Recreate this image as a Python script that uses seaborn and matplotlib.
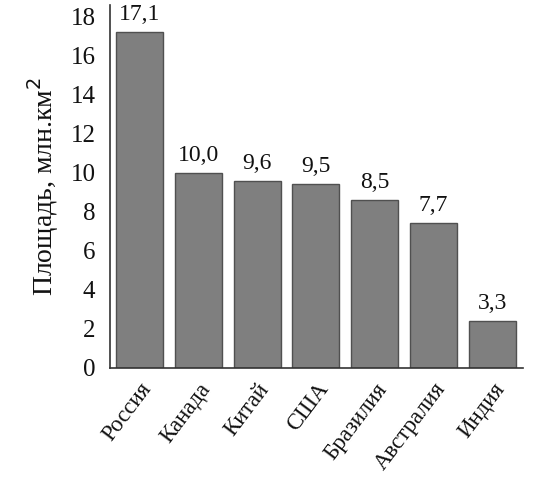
import matplotlib
matplotlib.use("Agg")
import matplotlib.pyplot as plt
import seaborn as sns
import pandas as pd
from matplotlib.ticker import FixedLocator

countries = ["Россия", "Канада", "Китай", "США", "Бразилия", "Австралия", "Индия"]
bar_heights = [17.2, 10.0, 9.6, 9.45, 8.6, 7.45, 2.4]
value_labels = ["17,1", "10,0", "9,6", "9,5", "8,5", "7,7", "3,3"]
y_ticks = [0, 2, 4, 6, 8, 10, 12, 14, 16, 18]

sns.set_theme(style="white")
plt.rcParams["font.family"] = ["Liberation Serif", "DejaVu Serif"]

df = pd.DataFrame({"country": countries, "area": bar_heights})

fig = plt.figure(figsize=(5.51, 4.95), dpi=100)
ax = fig.add_axes([0.1996, 0.2566, 0.7495, 0.7334])
sns.barplot(data=df, x="country", y="area", color="#7f7f7f", width=0.8,
            edgecolor="#505050", linewidth=1.0, saturation=1, ax=ax)

ax.set_ylim(0, 18.6)
ax.set_xlim(-0.5, 6.52)
ax.set_yticks(y_ticks)
ax.set_yticklabels([str(t) for t in y_ticks], fontsize=18, color="#111111")
ax.tick_params(axis="y", direction="inout", length=9, width=1, color="#333333", pad=6)
ax.set_xticks(range(len(countries)))
ax.tick_params(axis="x", which="major", length=0, pad=8)
ax.xaxis.set_minor_locator(FixedLocator([i - 0.5 for i in range(8)]))
ax.tick_params(axis="x", which="minor", direction="out", length=4, width=1, color="#333333")
ax.set_xticklabels(countries, rotation=53, ha="right", rotation_mode="anchor",
                   fontsize=16.5, color="#111111")
ax.set_xlabel("")
ax.set_ylabel("Площадь, млн.км$^2$", fontsize=20, labelpad=7, color="#111111")

for s in ["top", "right"]:
    ax.spines[s].set_visible(False)
for s in ["left", "bottom"]:
    ax.spines[s].set_color("#333333")
    ax.spines[s].set_linewidth(1.2)

for i, (h, lab) in enumerate(zip(bar_heights, value_labels)):
    ax.annotate(lab, (i, h), xytext=(0, 5), textcoords="offset points",
                ha="center", va="bottom", fontsize=17, color="#111111",
                annotation_clip=False)

fig.savefig("out.png", dpi=100, facecolor="white")
